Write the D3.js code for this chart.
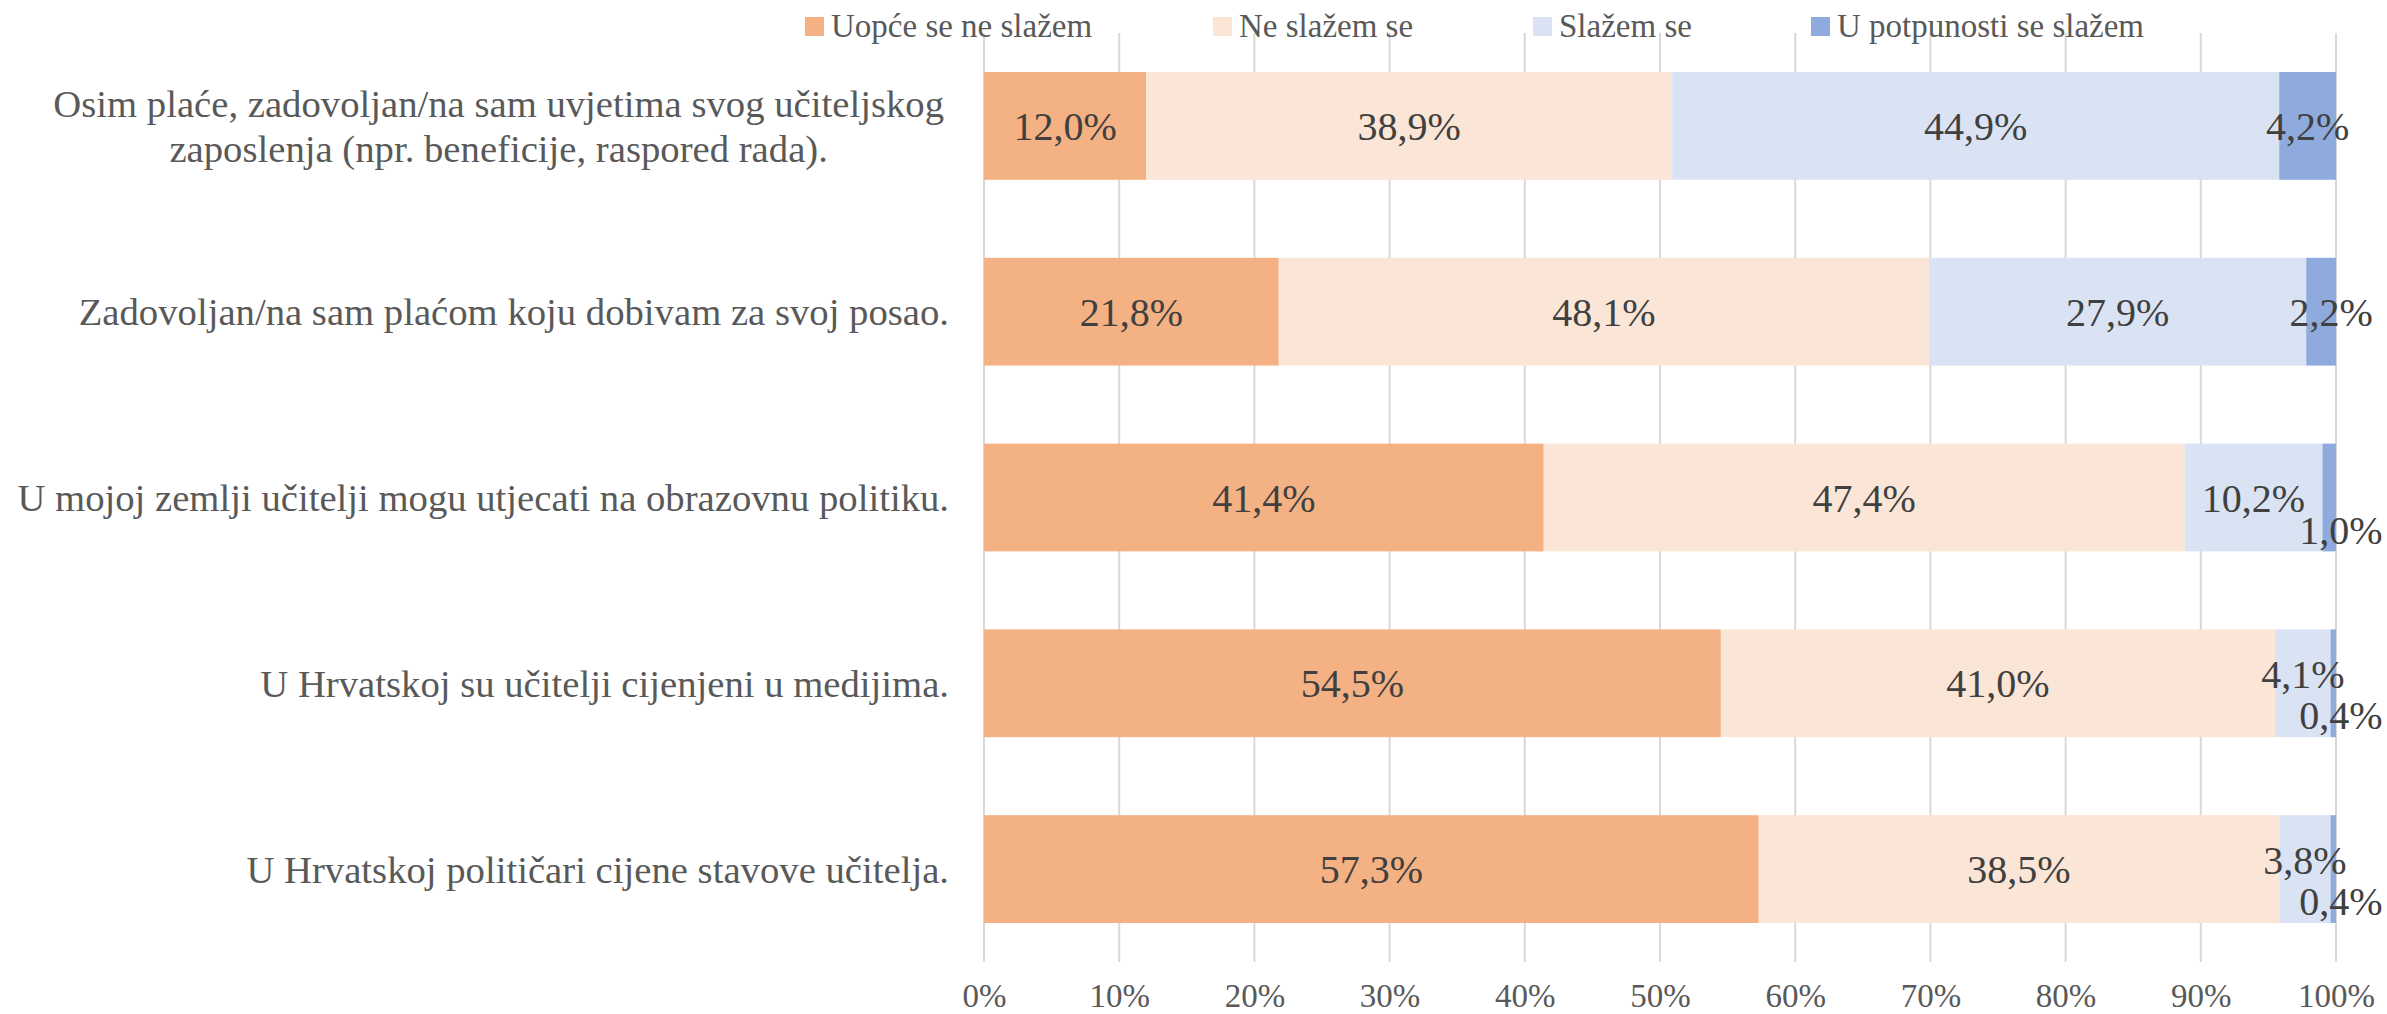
<!DOCTYPE html>
<html>
<head>
<meta charset="utf-8">
<script src="https://cdn.jsdelivr.net/npm/d3@7"></script>
<style>
  body { margin: 0; background: #fff; }
  text { font-family: "Liberation Serif", serif; }
</style>
</head>
<body>
<div id="chart"></div>
<script>
// data
const categories = [
  'Osim plaće, zadovoljan/na sam uvjetima svog učiteljskog|zaposlenja (npr. beneficije, raspored rada).',
  'Zadovoljan/na sam plaćom koju dobivam za svoj posao.',
  'U mojoj zemlji učitelji mogu utjecati na obrazovnu politiku.',
  'U Hrvatskoj su učitelji cijenjeni u medijima.',
  'U Hrvatskoj političari cijene stavove učitelja.'
]
const seriesNames = ['Uopće se ne slažem', 'Ne slažem se', 'Slažem se', 'U potpunosti se slažem']
const stronglyDisagree = [12.0, 21.8, 41.4, 54.5, 57.3]
const disagree = [38.9, 48.1, 47.4, 41.0, 38.5]
const agree = [44.9, 27.9, 10.2, 4.1, 3.8]
const stronglyAgree = [4.2, 2.2, 1.0, 0.4, 0.4]
const tickValues = [0, 10, 20, 30, 40, 50, 60, 70, 80, 90, 100]
const colors = ['#F4B183', '#FBE5D6', '#DAE3F3', '#8FAADC']

const W = 2387, H = 1014
const margin = { top: 33, right: 51, bottom: 52, left: 984 }
const innerW = W - margin.left - margin.right
const innerH = H - margin.top - margin.bottom

const svg = d3.select('#chart').append('svg')
  .attr('width', W).attr('height', H)

const g = svg.append('g').attr('transform', 'translate(' + margin.left + ',' + margin.top + ')')

const x = d3.scaleLinear().domain([0, 100]).range([0, innerW])
const y = d3.scaleBand().domain(d3.range(categories.length)).range([0, innerH]).paddingInner(0.42).paddingOuter(0.21)

// gridlines
g.selectAll('line.grid')
  .data(tickValues)
  .enter().append('line')
  .attr('class', 'grid')
  .attr('x1', (d) => x(d)).attr('x2', (d) => x(d))
  .attr('y1', 0).attr('y2', innerH)
  .attr('stroke', '#D9D9D9').attr('stroke-width', 2)

// x axis labels
const xAxis = d3.axisBottom(x).tickValues(tickValues).tickFormat((d) => d + '%').tickSize(0).tickPadding(22)
const ax = g.append('g').attr('transform', 'translate(0,' + innerH + ')').call(xAxis)
ax.select('.domain').remove()
ax.selectAll('text').attr('fill', '#595959').style('font-size', '33px').style('font-family', '"Liberation Serif", serif')

// stack
const rows = categories.map((c, i) => ({
  idx: i,
  s0: stronglyDisagree[i], s1: disagree[i], s2: agree[i], s3: stronglyAgree[i]
}))
const stack = d3.stack().keys(['s0', 's1', 's2', 's3'])(rows)

const layers = g.selectAll('g.layer')
  .data(stack)
  .enter().append('g')
  .attr('class', 'layer')
  .attr('fill', (d, i) => colors[i])

layers.selectAll('rect')
  .data((d) => d)
  .enter().append('rect')
  .attr('x', (d) => x(d[0]))
  .attr('width', (d) => x(d[1]) - x(d[0]))
  .attr('y', (d) => y(d.data.idx))
  .attr('height', y.bandwidth())

// data labels (tiny last segments get pushed below, like Excel does)
const fmt = (v) => v.toFixed(1).replace('.', ',') + '%'
stack.forEach((layer, li) => {
  layer.forEach((d) => {
    const v = d[1] - d[0]
    const last = stack[3][d.data.idx]
    const lastSmall = (last[1] - last[0]) < 2
    let cx = x((d[0] + d[1]) / 2)
    let cy = y(d.data.idx) + y.bandwidth() / 2
    if (li === 3 && v < 2) {
      cx = x(100) + 5
      cy += 32
    } else if (li === 3 && v < 3) {
      cx += 10
    } else if (li === 2 && lastSmall && v < 5) {
      cy -= 9
    }
    g.append('text')
      .attr('x', cx).attr('y', cy)
      .attr('dy', '0.35em')
      .attr('text-anchor', 'middle')
      .attr('fill', '#404040')
      .style('font-size', '40px')
      .text(fmt(v))
  })
})

// category labels
categories.forEach((c, i) => {
  const lines = c.split('|')
  const cy = y(i) + y.bandwidth() / 2
  const t = svg.append('text')
    .attr('fill', '#595959')
    .style('font-size', '38.7px')
  const lh = 45
  lines.forEach((ln, k) => {
    t.append('tspan')
      .attr('y', margin.top + cy + (k - (lines.length - 1) / 2) * lh)
      .attr('dy', '0.35em')
      .text(ln)
  })
  if (lines.length > 1) {
    // wrapped text is centred within its block, the block right-aligned
    const widths = []
    t.selectAll('tspan').each(function () { widths.push(this.getComputedTextLength()) })
    const maxW = d3.max(widths)
    const center = 944 - maxW / 2
    t.attr('text-anchor', 'middle')
    t.selectAll('tspan').attr('x', center)
  } else {
    t.attr('text-anchor', 'end')
    t.selectAll('tspan').attr('x', 949)
  }
})

// legend
const legendX = [805, 1213, 1533, 1811]
const legend = svg.append('g')
seriesNames.forEach((name, i) => {
  legend.append('rect')
    .attr('x', legendX[i]).attr('y', 17)
    .attr('width', 19).attr('height', 19)
    .attr('fill', colors[i])
  legend.append('text')
    .attr('x', legendX[i] + 26).attr('y', 37)
    .attr('fill', '#595959')
    .style('font-size', '33px')
    .text(name)
})
</script>
</body>
</html>
